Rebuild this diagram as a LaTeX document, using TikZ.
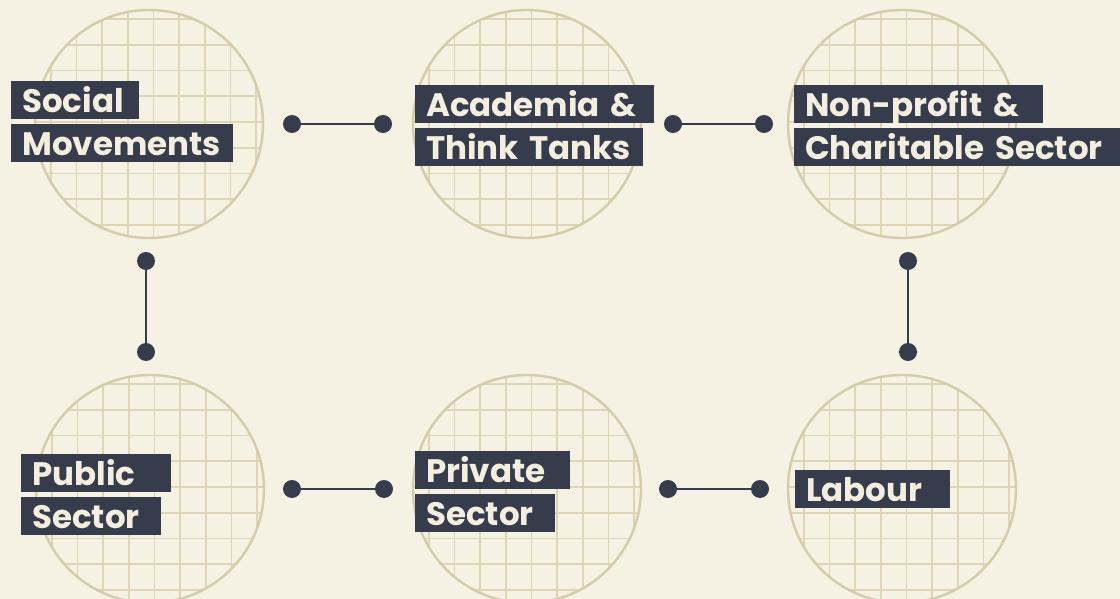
\documentclass[tikz,border=0pt]{standalone}
\usepackage{fontspec}
\setmainfont{Poppins}
\definecolor{bg}{HTML}{F5F1E3}
\definecolor{tanc}{HTML}{D5CCAA}
\definecolor{gridc}{HTML}{DDD5B6}
\definecolor{navy}{HTML}{363C4C}
\definecolor{cream}{HTML}{F3EEDF}
\tikzset{
 disc/.style={circle, draw=tanc, line width=2.4pt, minimum size=228pt, inner sep=0pt},
 lbl/.style={anchor=north west, fill=navy, text=cream, font=\fontsize{32.5}{34}\selectfont\bfseries, inner xsep=11pt, inner ysep=0pt, text height=31pt, text depth=7pt, text width=#1, align=left},
 dot/.style={circle, fill=navy, minimum size=18pt, inner sep=0pt},
 link/.style={draw=navy, line width=2.2pt},
 gline/.style={draw=gridc, line width=1.7pt}
}
\begin{document}
\begin{tikzpicture}[x=1pt,y=-1pt]
\fill[bg] (0,0) rectangle (1120,599);
\useasboundingbox (0,0) rectangle (1120,599);
\foreach \n/\cx/\cy in {c1/149/124, c2/527/124, c3/902/124, c4/150/489, c5/527/489, c6/902/489} {
  \begin{scope}
    \clip (\cx,\cy) circle[radius=114pt];
    \foreach \k in {-5,...,5} {
      \draw[gline] ({\cx+4.5+25.7*\k}, \cy-120) -- ({\cx+4.5+25.7*\k}, \cy+120);
      \draw[gline] (\cx-120, {\cy-2+25.7*\k}) -- (\cx+120, {\cy-2+25.7*\k});
    }
  \end{scope}
  \node[disc] (\n) at (\cx,\cy) {};
}
% labels
\node[lbl=106pt] (l1a) at (11,81) {\mbox{Social}};
\node[lbl=200pt] (l1b) at (11,124) {\mbox{Movements}};
\node[lbl=217pt] (l2a) at (415,85) {\mbox{Academia \&}};
\node[lbl=206pt] (l2b) at (415,128) {\mbox{Think Tanks}};
\node[lbl=227pt] (l3a) at (794,85) {\mbox{Non-profit \&}};
\node[lbl=310pt] (l3b) at (794,128) {\mbox{Charitable Sector}};
\node[lbl=128pt] (l4a) at (21,454) {\mbox{Public}};
\node[lbl=118pt] (l4b) at (21,497) {\mbox{Sector}};
\node[lbl=133pt] (l5a) at (415,451) {\mbox{Private}};
\node[lbl=118pt] (l5b) at (415,494) {\mbox{Sector}};
\node[lbl=133pt] (l6) at (795,470) {\mbox{Labour}};
% connectors
\node[dot] (d1a) at (292,124) {};
\node[dot] (d1b) at (383,124) {};
\node[dot] (d2a) at (673,124) {};
\node[dot] (d2b) at (764,124) {};
\node[dot] (d3a) at (146,261) {};
\node[dot] (d3b) at (146,352) {};
\node[dot] (d4a) at (908,261) {};
\node[dot] (d4b) at (908,352) {};
\node[dot] (d5a) at (292,489) {};
\node[dot] (d5b) at (384,489) {};
\node[dot] (d6a) at (668,489) {};
\node[dot] (d6b) at (760,489) {};
\draw[link] (d1a) -- (d1b);
\draw[link] (d2a) -- (d2b);
\draw[link] (d3a) -- (d3b);
\draw[link] (d4a) -- (d4b);
\draw[link] (d5a) -- (d5b);
\draw[link] (d6a) -- (d6b);
\end{tikzpicture}
\end{document}
